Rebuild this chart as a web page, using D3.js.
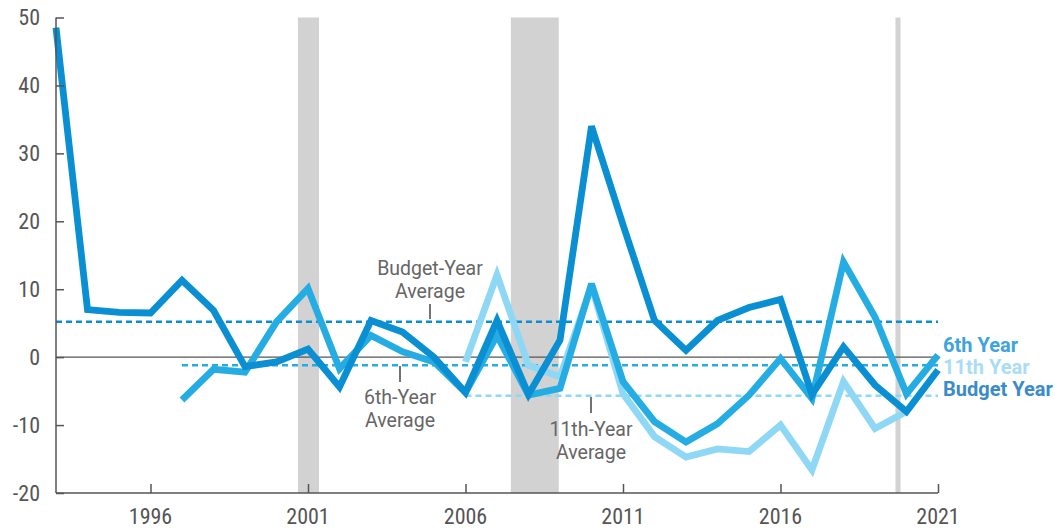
<!DOCTYPE html>
<html>
<head>
<meta charset="utf-8">
<script src="https://cdn.jsdelivr.net/npm/d3@7"></script>
<style>
body { margin: 0; background: #fff; }
svg text { font-family: Roboto, "Liberation Sans", sans-serif; }
.tick-lbl { font-family: "Liberation Sans Narrow", "Arial Narrow", "Roboto Condensed", sans-serif; }
</style>
</head>
<body>
<div id="chart"></div>
<script>
var years = d3.range(1993, 2022)
// forecast errors, percent
var budgetYear = [48.5, 7.0, 6.6, 6.5, 11.3, 6.9, -1.4, -0.7, 1.2, -4.4, 5.4, 3.7, 0.0, -5.2, 5.4, -5.5, 2.5, 34.0, 19.5, 5.4, 1.0, 5.4, 7.3, 8.5, -5.5, 1.5, -4.1, -8.0, -1.9]
var sixthYear = [null, null, null, null, -6.3, -1.8, -2.2, 5.2, 10.1, -1.7, 3.2, 0.8, -0.7, -5.2, 3.2, -5.6, -4.6, 10.8, -3.6, -9.5, -12.5, -9.8, -5.6, -0.2, -6.1, 14.0, 5.9, -5.4, 0.3]
var eleventhYear = [null, null, null, null, null, null, null, null, null, null, null, null, null, -0.7, 12.1, -1.2, -2.9, 10.5, -5.4, -11.7, -14.7, -13.5, -13.9, -10.0, -16.6, -3.6, -10.5, -8.0, null]
var averages = [
  {name: "budget", value: 5.2, start: 1993},
  {name: "sixth", value: -1.2, start: 1997},
  {name: "eleventh", value: -5.7, start: 2006}
]
var recessions = [[2000.68, 2001.35], [2007.44, 2008.96], [2019.65, 2019.81]]
var yTicks = [-20, -10, 0, 10, 20, 30, 40, 50]
var xTicks = [1996, 2001, 2006, 2011, 2016, 2021]

var colors = {budget: "#0a8fd3", sixth: "#25ade3", eleventh: "#8ed8f6"}

var width = 1055, height = 529
var svg = d3.select("#chart").append("svg").attr("width", width).attr("height", height)

var x = d3.scaleLinear().domain([1993, 2021]).range([56, 938])
var y = d3.scaleLinear().domain([-20, 50]).range([493, 17.5])

// recession bands
svg.selectAll("rect.rec").data(recessions).enter().append("rect")
  .attr("x", function(d){ return x(d[0]) })
  .attr("width", function(d){ return x(d[1]) - x(d[0]) })
  .attr("y", y(50)).attr("height", y(-20) - y(50))
  .attr("fill", "#d2d2d2")

// zero line
svg.append("line").attr("x1", x(1993)).attr("x2", x(2021)).attr("y1", y(0)).attr("y2", y(0))
  .attr("stroke", "#555").attr("stroke-width", 1.2)

// average lines
svg.selectAll("line.avg").data(averages).enter().append("line")
  .attr("x1", function(d){ return x(d.start) }).attr("x2", x(2021))
  .attr("y1", function(d){ return y(d.value) }).attr("y2", function(d){ return y(d.value) })
  .attr("stroke", function(d){ return colors[d.name] })
  .attr("stroke-width", 2.5).attr("stroke-dasharray", "6,4")

// series
function drawSeries(vals, col){
  var line = d3.line()
    .defined(function(d){ return d != null })
    .x(function(d, i){ return x(years[i]) })
    .y(function(d){ return y(d) })
  svg.append("path").datum(vals)
    .attr("d", line).attr("fill", "none")
    .attr("stroke", col).attr("stroke-width", 6.8)
    .attr("stroke-linejoin", "miter").attr("stroke-miterlimit", 3)
}
drawSeries(eleventhYear, colors.eleventh)
drawSeries(sixthYear, colors.sixth)
drawSeries(budgetYear, colors.budget)

// axes
var yAxis = d3.axisRight(y).tickValues(yTicks).tickSize(8).tickFormat("")
svg.append("g").attr("transform", "translate(" + x(1993) + ",0)").call(yAxis)
  .call(function(g){ g.select(".domain").remove() })
svg.append("line").attr("x1", x(1993)).attr("x2", x(1993)).attr("y1", y(50)).attr("y2", y(-20))
  .attr("stroke", "#555").attr("stroke-width", 1.5)
svg.selectAll("g .tick line").attr("stroke", "#555").attr("stroke-width", 1.5)

svg.selectAll("text.ylbl").data(yTicks).enter().append("text")
  .attr("class", "tick-lbl")
  .attr("x", 40).attr("y", function(d){ return y(d) })
  .attr("dy", "0.36em").attr("text-anchor", "end")
  .attr("font-size", 22).attr("fill", "#555")
  .text(function(d){ return d })

var xAxis = d3.axisTop(x).tickValues(xTicks).tickSize(9).tickFormat("")
svg.append("g").attr("class", "xaxis").attr("transform", "translate(0," + y(-20) + ")").call(xAxis)
  .call(function(g){ g.select(".domain").remove() })
svg.selectAll(".xaxis .tick line").attr("stroke", "#555").attr("stroke-width", 1.5)
svg.append("line").attr("x1", x(1993)).attr("x2", x(2021)).attr("y1", y(-20)).attr("y2", y(-20))
  .attr("stroke", "#555").attr("stroke-width", 1.5)

svg.selectAll("text.xlbl").data(xTicks).enter().append("text")
  .attr("class", "tick-lbl")
  .attr("x", function(d){ return x(d) }).attr("y", 524)
  .attr("text-anchor", "middle")
  .attr("font-size", 22).attr("fill", "#555")
  .text(function(d){ return d })

// annotations for averages
var notes = [
  {lines: ["Budget-Year", "Average"], cx: 430, base: 275, tick: [304, 319]},
  {lines: ["6th-Year", "Average"], cx: 400, base: 404, tick: [366, 382]},
  {lines: ["11th-Year", "Average"], cx: 591, base: 436, tick: [397, 413]}
]
notes.forEach(function(n){
  n.lines.forEach(function(t, i){
    svg.append("text").attr("x", n.cx).attr("y", n.base + i * 23)
      .attr("text-anchor", "middle").attr("font-size", 19.5).attr("fill", "#666")
      .text(t)
  })
  svg.append("line").attr("x1", n.cx).attr("x2", n.cx).attr("y1", n.tick[0]).attr("y2", n.tick[1])
    .attr("stroke", "#444").attr("stroke-width", 1.5)
})

// legend labels
var legend = [
  {label: "6th Year", color: "#3fa3dc", base: 352},
  {label: "11th Year", color: "#a9ddf5", base: 374},
  {label: "Budget Year", color: "#3a8bca", base: 396}
]
svg.selectAll("text.leg").data(legend).enter().append("text")
  .attr("x", 943).attr("y", function(d){ return d.base })
  .attr("font-size", 20).attr("font-weight", "bold")
  .attr("fill", function(d){ return d.color })
  .text(function(d){ return d.label })
</script>
</body>
</html>
